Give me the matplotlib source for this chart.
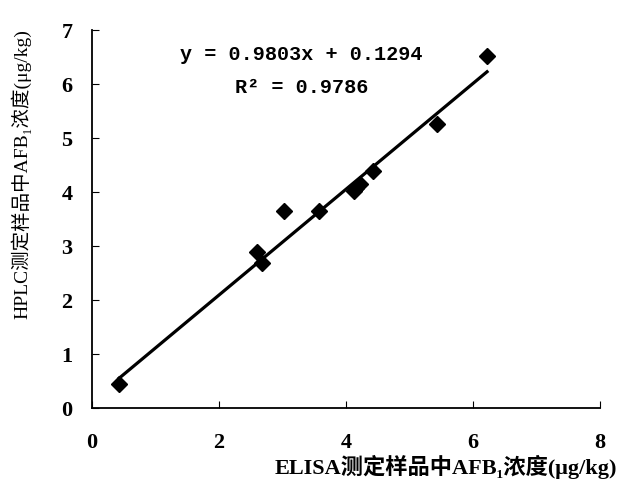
import matplotlib
matplotlib.use('Agg')
import matplotlib.pyplot as plt
import numpy as np

# данные
elisa = [0.43, 2.60, 2.68, 3.02, 3.57, 4.13, 4.16, 4.22, 4.43, 5.43, 6.22]
hplc = [0.45, 2.88, 2.68, 3.65, 3.64, 4.02, 4.08, 4.15, 4.38, 5.26, 6.52]
slope = 0.9803
intercept = 0.1294
r2 = 0.9786

x_ticks = [0, 2, 4, 6, 8]
y_ticks = [0, 1, 2, 3, 4, 5, 6, 7]

fonts = ['Liberation Serif', 'Noto Sans CJK SC', 'DejaVu Serif']
mono = ['Liberation Mono', 'DejaVu Sans Mono']
plt.rcParams['font.family'] = fonts
plt.rcParams['font.weight'] = 'bold'

fig = plt.figure(figsize=(6.2, 4.84), dpi=100)
ax = fig.add_axes([0.148, 0.157, 0.82, 0.781])

ax.plot(elisa, hplc, linestyle='none', marker='D', markersize=8, color='black')

# линия регрессии по уравнению с графика
xl = np.array([min(elisa), max(elisa)])
ax.plot(xl, slope * xl + intercept, color='black', linewidth=2.3)

ax.set_xlim(0, 8)
ax.set_ylim(0, 7)
ax.set_xticks(x_ticks)
ax.set_yticks(y_ticks)
ax.tick_params(axis='x', direction='in', length=5, pad=18, labelsize=16)
ax.tick_params(axis='y', direction='in', length=5, pad=14, labelsize=16)
for lab in ax.get_xticklabels() + ax.get_yticklabels():
    lab.set_fontweight('bold')

for s in ['top', 'right']:
    ax.spines[s].set_visible(False)
for s in ['left', 'bottom']:
    ax.spines[s].set_linewidth(1.3)

ax.set_xlabel('ELISA测定样品中AFB\u2081浓度(μg/kg)', fontsize=16, fontweight='bold',
              ha='right', va='top')
ax.xaxis.set_label_coords(1.033, -0.125)
ax.set_ylabel('HPLC测定样品中AFB\u2081浓度(μg/kg)', fontsize=14, fontweight='normal')
ax.yaxis.set_label_coords(-0.118, 0.62)

ax.text(0.413, 0.934, f'y = {slope}x + {intercept}', transform=ax.transAxes,
        family=mono, fontsize=14.5, fontweight='bold', ha='center', va='center')
ax.text(0.413, 0.849, f'R\u00b2 = {r2}', transform=ax.transAxes,
        family=mono, fontsize=14.5, fontweight='bold', ha='center', va='center')

plt.savefig('out.png', dpi=100)
